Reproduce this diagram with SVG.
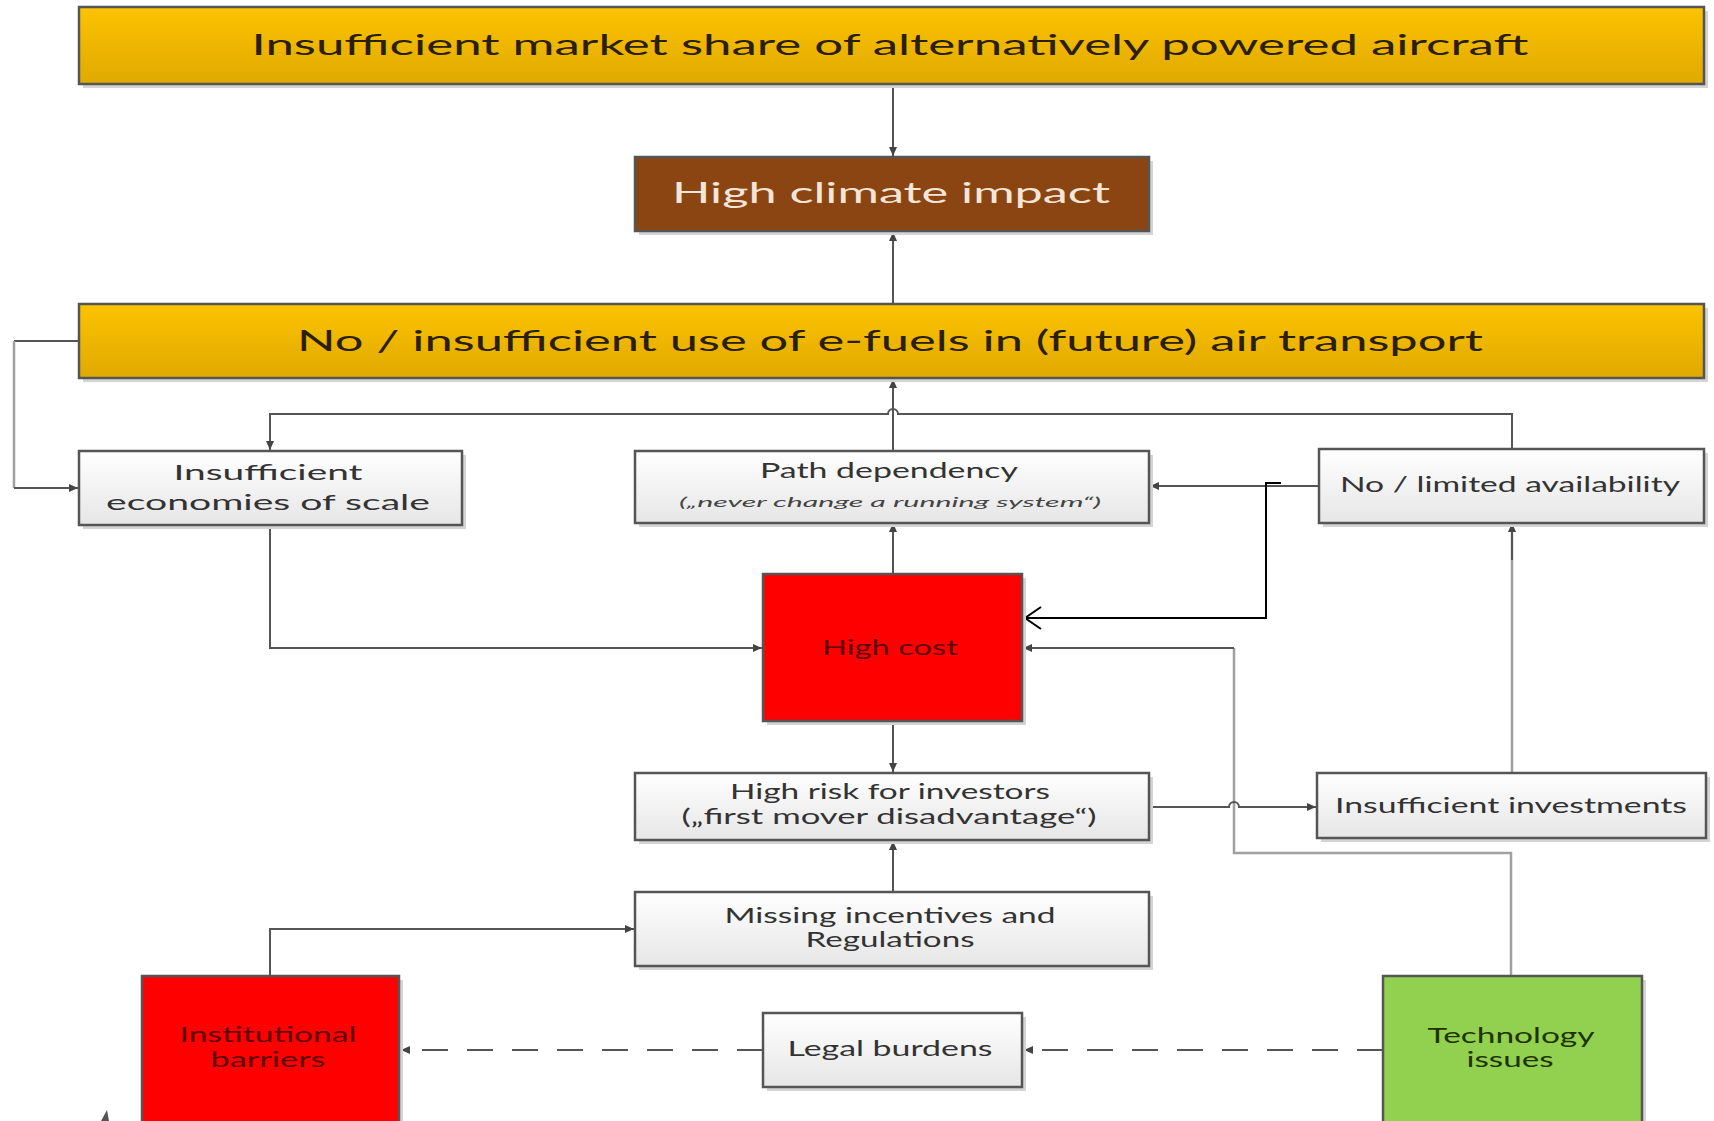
<svg xmlns="http://www.w3.org/2000/svg" width="1714" height="1121" viewBox="0 0 1714 1121">
<style>
text{font-family:Lato,"Open Sans","Liberation Sans",sans-serif;text-anchor:middle}
.box{stroke:#555;stroke-width:2.5}
.shadow{fill:#d4d4d4}
.gray{fill:url(#gGray)}
.yel{fill:url(#gYel)}
.big{font-size:28px;fill:#2a2000}
.lbl{font-size:21px;fill:#333}
.dark{font-size:21px;fill:#5c0000}
.grn{font-size:21px;fill:#1e3300}
.con{fill:none;stroke:#555;stroke-width:2}
.lite{fill:none;stroke:#a0a0a0;stroke-width:2.5}
.dash{fill:none;stroke:#555;stroke-width:2;stroke-dasharray:26 19}
</style>
<defs>
<linearGradient id="gGray" x1="0" y1="0" x2="0" y2="1"><stop offset="0" stop-color="#ffffff"/><stop offset="1" stop-color="#e6e6e6"/></linearGradient>
<linearGradient id="gYel" x1="0" y1="0" x2="0" y2="1"><stop offset="0" stop-color="#fcc300"/><stop offset="1" stop-color="#e0a900"/></linearGradient>
<marker id="arr" markerUnits="userSpaceOnUse" markerWidth="10" markerHeight="10" refX="9" refY="5" orient="auto"><path d="M0,1 L9,5 L0,9 z" fill="#444"/></marker>
<marker id="open" markerUnits="userSpaceOnUse" markerWidth="20" markerHeight="24" refX="18" refY="12" orient="auto"><path d="M2,1 L18,12 L2,23" fill="none" stroke="#000" stroke-width="2"/></marker>
</defs>

<g id="connectors">
<path class="con" d="M893,84 V156" marker-end="url(#arr)"/>
<path class="con" d="M893,304 V232" marker-end="url(#arr)"/>
<path class="con" d="M893,451 V379" marker-end="url(#arr)"/>
<path class="con" d="M270,450 V414 H888 A5,5 0 0 1 898,414 H1512 V448"/>
<path class="con" d="M270,420 V450" marker-end="url(#arr)"/>
<path class="con" d="M79,341 H14"/>
<path class="lite" d="M14,341 V488"/>
<path class="con" d="M14,488 H78" marker-end="url(#arr)"/>
<path class="con" d="M270,525 V648 H762" marker-end="url(#arr)"/>
<path class="con" d="M893,574 V523" marker-end="url(#arr)"/>
<path class="con" d="M1318,486 H1150" marker-end="url(#arr)"/>
<path d="M1281,483 H1266 V618 H1025" fill="none" stroke="#000" stroke-width="2" marker-end="url(#open)"/>
<path class="lite" d="M1511,976 V853 H1234 V648"/>
<path class="con" d="M1234,648 H1023" marker-end="url(#arr)"/>
<path class="con" d="M893,721 V772" marker-end="url(#arr)"/>
<path class="con" d="M1149,807 H1229 A5,5 0 0 1 1239,807 H1316" marker-end="url(#arr)"/>
<path class="lite" d="M1512,773 V524"/>
<path class="con" d="M1512,560 V523" marker-end="url(#arr)"/>
<path class="con" d="M893,892 V841" marker-end="url(#arr)"/>
<path class="con" d="M270,976 V929 H634" marker-end="url(#arr)"/>
<path class="dash" d="M763,1050 H401" marker-end="url(#arr)"/>
<path class="dash" d="M1383,1050 H1024" marker-end="url(#arr)"/>
<path d="M107,1110 L101,1121 L109,1121 z" fill="#555"/>
</g>

<g id="n-market">
<rect class="shadow" x="83" y="11" width="1625" height="77"/>
<rect class="box yel" x="79" y="7" width="1625" height="77"/>
<text class="big" x="890" y="55" textLength="1277" lengthAdjust="spacingAndGlyphs">Insufficient market share of alternatively powered aircraft</text>
</g>

<g id="n-climate">
<rect class="shadow" x="639" y="161" width="514" height="74"/>
<rect class="box" fill="#8b4513" x="635" y="157" width="514" height="74"/>
<text x="891" y="203" font-size="28" fill="#f3e6d9" textLength="438" lengthAdjust="spacingAndGlyphs">High climate impact</text>
</g>

<g id="n-efuels">
<rect class="shadow" x="83" y="308" width="1625" height="74"/>
<rect class="box yel" x="79" y="304" width="1625" height="74"/>
<text class="big" x="890" y="351" textLength="1186" lengthAdjust="spacingAndGlyphs">No / insufficient use of e-fuels in (future) air transport</text>
</g>

<g id="n-economies">
<rect class="shadow" x="83" y="455" width="383" height="74"/>
<rect class="box gray" x="79" y="451" width="383" height="74"/>
<text class="lbl" x="268" y="480" textLength="189" lengthAdjust="spacingAndGlyphs">Insufficient</text>
<text class="lbl" x="268" y="510" textLength="324" lengthAdjust="spacingAndGlyphs">economies of scale</text>
</g>

<g id="n-path">
<rect class="shadow" x="639" y="455" width="514" height="72"/>
<rect class="box gray" x="635" y="451" width="514" height="72"/>
<text class="lbl" x="889" y="478" font-size="17" textLength="258" lengthAdjust="spacingAndGlyphs">Path dependency</text>
<text x="890" y="507" font-size="13" font-style="italic" fill="#444" textLength="422" lengthAdjust="spacingAndGlyphs">(„never change a running system“)</text>
</g>

<g id="n-availability">
<rect class="shadow" x="1323" y="453" width="385" height="74"/>
<rect class="box gray" x="1319" y="449" width="385" height="74"/>
<text class="lbl" x="1510" y="492" textLength="340" lengthAdjust="spacingAndGlyphs">No / limited availability</text>
</g>

<g id="n-cost">
<rect class="shadow" x="767" y="578" width="259" height="147"/>
<rect class="box" fill="#ff0000" x="763" y="574" width="259" height="147"/>
<text class="dark" x="890" y="655" textLength="136" lengthAdjust="spacingAndGlyphs">High cost</text>
</g>

<g id="n-risk">
<rect class="shadow" x="639" y="777" width="514" height="67"/>
<rect class="box gray" x="635" y="773" width="514" height="67"/>
<text class="lbl" x="890" y="799" font-size="19" textLength="320" lengthAdjust="spacingAndGlyphs">High risk for investors</text>
<text class="lbl" x="889" y="824" font-size="19" textLength="415" lengthAdjust="spacingAndGlyphs">(„first mover disadvantage“)</text>
</g>

<g id="n-investments">
<rect class="shadow" x="1321" y="777" width="389" height="65"/>
<rect class="box gray" x="1317" y="773" width="389" height="65"/>
<text class="lbl" x="1511" y="813" textLength="352" lengthAdjust="spacingAndGlyphs">Insufficient investments</text>
</g>

<g id="n-incentives">
<rect class="shadow" x="639" y="896" width="514" height="74"/>
<rect class="box gray" x="635" y="892" width="514" height="74"/>
<text class="lbl" x="890" y="923" textLength="331" lengthAdjust="spacingAndGlyphs">Missing incentives and</text>
<text class="lbl" x="890" y="947" textLength="169" lengthAdjust="spacingAndGlyphs">Regulations</text>
</g>

<g id="n-institutional">
<rect class="shadow" x="146" y="980" width="257" height="150"/>
<rect class="box" fill="#ff0000" x="142" y="976" width="257" height="150"/>
<text class="dark" x="268" y="1042" textLength="177" lengthAdjust="spacingAndGlyphs">Institutional</text>
<text class="dark" x="268" y="1067" textLength="115" lengthAdjust="spacingAndGlyphs">barriers</text>
</g>

<g id="n-legal">
<rect class="shadow" x="767" y="1017" width="259" height="74"/>
<rect class="box gray" x="763" y="1013" width="259" height="74"/>
<text class="lbl" x="890" y="1056" textLength="205" lengthAdjust="spacingAndGlyphs">Legal burdens</text>
</g>

<g id="n-technology">
<rect class="shadow" x="1387" y="980" width="259" height="150"/>
<rect class="box" fill="#92d050" x="1383" y="976" width="259" height="150"/>
<text class="grn" x="1511" y="1043" textLength="167" lengthAdjust="spacingAndGlyphs">Technology</text>
<text class="grn" x="1510" y="1067" textLength="87" lengthAdjust="spacingAndGlyphs">issues</text>
</g>
</svg>
